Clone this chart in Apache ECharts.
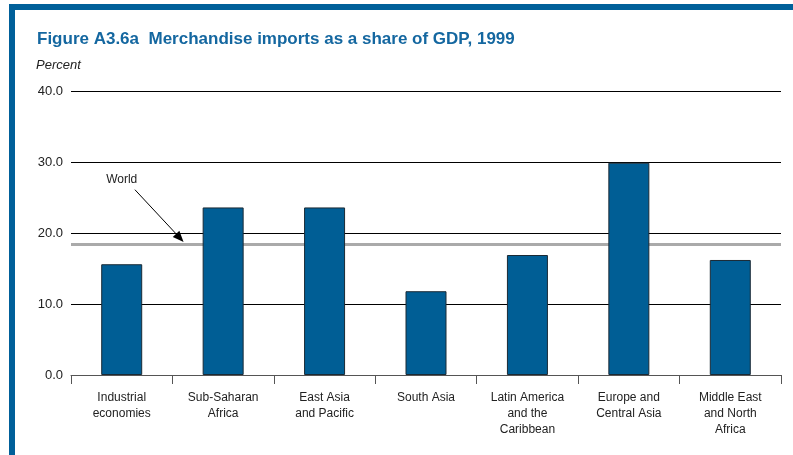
<!DOCTYPE html>
<html>
<head>
<meta charset="utf-8">
<script src="https://cdn.jsdelivr.net/npm/echarts@6/dist/echarts.min.js"></script>
<style>
  html, body { margin: 0; padding: 0; background: #fff; }
  #frame { position: absolute; left: 9px; top: 4px; width: 784px; height: 451px;
           border-top: 6px solid #00609a; border-left: 6px solid #00609a; box-sizing: border-box; }
  #chart { position: absolute; left: 0; top: 0; width: 793px; height: 455px; }
</style>
</head>
<body>
<div id="frame"></div>
<div id="chart"></div>
<script>
const categories = [
  'Industrial\neconomies',
  'Sub-Saharan\nAfrica',
  'East Asia\nand Pacific',
  'South Asia',
  'Latin America\nand the\nCaribbean',
  'Europe and\nCentral Asia',
  'Middle East\nand North\nAfrica'
];
const importsShare = [15.6, 23.6, 23.6, 11.8, 16.9, 29.9, 16.2];
const worldShare = 18.4;
const yTicks = [0, 10, 20, 30, 40];

const chart = echarts.init(document.getElementById('chart'), null, { renderer: 'canvas' });
const font = '"Liberation Sans", Arial, Helvetica, sans-serif';

const option = {
  backgroundColor: 'transparent',
  animation: false,
  title: [{
    text: 'Figure A3.6a  Merchandise imports as a share of GDP, 1999',
    left: 37, top: 31, padding: 0,
    textStyle: { fontFamily: font, fontSize: 17, fontWeight: 'bold', color: '#1467a0' }
  }, {
    text: 'Percent',
    left: 36, top: 59, padding: 0,
    textStyle: { fontFamily: font, fontSize: 13, fontStyle: 'italic', fontWeight: 'normal', color: '#222' }
  }],
  grid: { left: 71, right: 12, top: 91, bottom: 80 },
  xAxis: {
    type: 'category',
    data: categories,
    axisLine: { lineStyle: { color: '#555', width: 1 } },
    axisTick: { show: true, length: 9, lineStyle: { color: '#555' } },
    axisLabel: { fontFamily: font, fontSize: 12, color: '#222', lineHeight: 16, margin: 15, interval: 0 }
  },
  yAxis: {
    type: 'value',
    min: yTicks[0], max: yTicks[yTicks.length - 1], interval: 10,
    axisLine: { show: false },
    axisTick: { show: false },
    splitLine: { show: true, lineStyle: { color: '#000', width: 1 } },
    axisLabel: { fontFamily: font, fontSize: 13, color: '#222', margin: 8,
                 formatter: v => v.toFixed(1) }
  },
  series: [{
    type: 'bar',
    data: importsShare,
    barWidth: 41,
    itemStyle: { color: '#005e95', borderColor: '#1a2a35', borderWidth: 1 },
    z: 3,
    markLine: {
      silent: true,
      symbol: ['none', 'none'],
      label: { show: false },
      lineStyle: { color: '#aaaaaa', width: 3, type: 'solid' },
      data: [{ yAxis: worldShare }],
      z: 2
    }
  }]
};
chart.setOption(option);

// World annotation: positions derived from the chart's own scales
function px(catIdx, frac, value) {
  const a = chart.convertToPixel({ gridIndex: 0 }, [catIdx, value]);
  const b = chart.convertToPixel({ gridIndex: 0 }, [catIdx + 1, value]);
  return [a[0] + frac * (b[0] - a[0]), a[1]];
}
const textPos = px(0, 0, 27.5);
const start = px(0, 0.13, 26.1);
const tip = px(0, 0.61, worldShare + 0.35);
const ang = Math.atan2(tip[1] - start[1], tip[0] - start[0]);
const hl = 11, hw = 4.5;
const base = [tip[0] - hl * Math.cos(ang), tip[1] - hl * Math.sin(ang)];
const left = [base[0] + hw * Math.sin(ang), base[1] - hw * Math.cos(ang)];
const right = [base[0] - hw * Math.sin(ang), base[1] + hw * Math.cos(ang)];

chart.setOption({
  graphic: [
    { type: 'text', x: textPos[0], y: textPos[1], z: 10,
      style: { text: 'World', font: '12px ' + font, fill: '#222', align: 'center', verticalAlign: 'middle' } },
    { type: 'line', z: 10, shape: { x1: start[0], y1: start[1], x2: base[0], y2: base[1] },
      style: { stroke: '#000', lineWidth: 1 } },
    { type: 'polygon', z: 10, shape: { points: [tip, left, right] }, style: { fill: '#000' } }
  ]
});
</script>
</body>
</html>
